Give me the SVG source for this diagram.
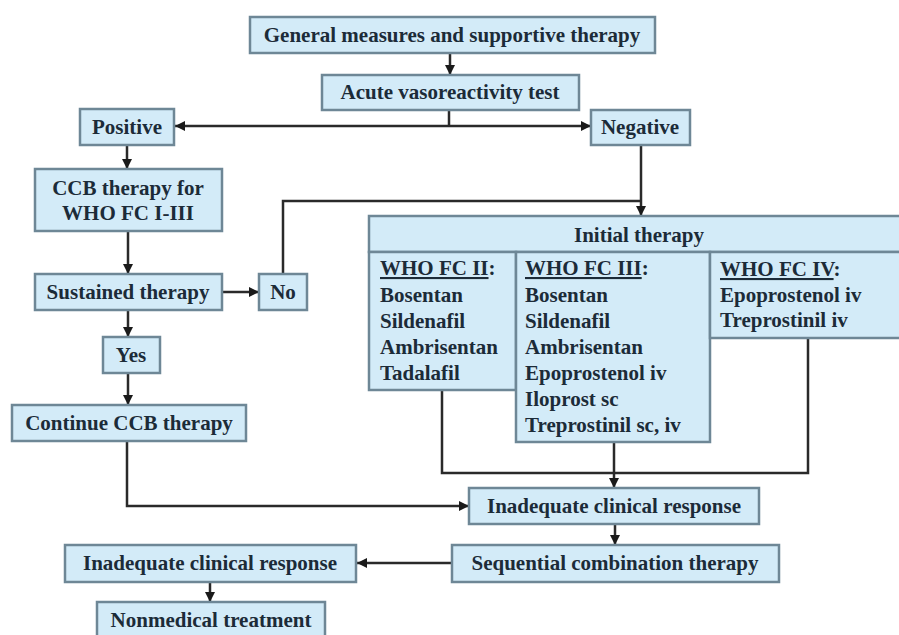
<svg xmlns="http://www.w3.org/2000/svg" width="899" height="635" viewBox="0 0 899 635">
<defs>
<style>
.box{fill:#d3ebf8;stroke:#6e8796;stroke-width:2.5}
.t{font-family:"Liberation Serif","Times New Roman",serif;font-weight:bold;font-size:21px;fill:#1c2b38}
.c{text-anchor:middle}
.u{text-decoration:underline}
.ln{fill:none;stroke:#2a2a2a;stroke-width:2.5}
</style>
<marker id="ah" viewBox="0 0 10 10" refX="10" refY="5" markerWidth="10" markerHeight="10" markerUnits="userSpaceOnUse" orient="auto">
<path d="M0,0 L10,5 L0,10 z" fill="#1a1a1a"/>
</marker>
</defs>
<rect width="899" height="635" fill="#ffffff"/>

<g id="connectors">
<path class="ln" d="M450,53 V75" marker-end="url(#ah)"/>
<path class="ln" d="M449,110 V126"/>
<path class="ln" d="M449,126 H175" marker-end="url(#ah)"/>
<path class="ln" d="M449,126 H591" marker-end="url(#ah)"/>
<path class="ln" d="M127,145 V169" marker-end="url(#ah)"/>
<path class="ln" d="M128,231 V274" marker-end="url(#ah)"/>
<path class="ln" d="M222,292 H259" marker-end="url(#ah)"/>
<path class="ln" d="M283,274 V201 H641"/>
<path class="ln" d="M641,145 V216" marker-end="url(#ah)"/>
<path class="ln" d="M128,310 V337" marker-end="url(#ah)"/>
<path class="ln" d="M128,373 V405" marker-end="url(#ah)"/>
<path class="ln" d="M127,441 V506 H469" marker-end="url(#ah)"/>
<path class="ln" d="M442,390 V473 H808 V338"/>
<path class="ln" d="M614,442 V488" marker-end="url(#ah)"/>
<path class="ln" d="M615,524 V545" marker-end="url(#ah)"/>
<path class="ln" d="M452,563 H357" marker-end="url(#ah)"/>
<path class="ln" d="M210,582 V602" marker-end="url(#ah)"/>
</g>

<g id="general">
<rect class="box" x="250" y="17" width="405" height="36"/>
<text class="t c" x="452" y="42">General measures and supportive therapy</text>
</g>
<g id="acute">
<rect class="box" x="322" y="75" width="257" height="35"/>
<text class="t c" x="450" y="99">Acute vasoreactivity test</text>
</g>
<g id="positive">
<rect class="box" x="80" y="109" width="94" height="36"/>
<text class="t c" x="127" y="134">Positive</text>
</g>
<g id="negative">
<rect class="box" x="591" y="110" width="99" height="35"/>
<text class="t c" x="640" y="134">Negative</text>
</g>
<g id="ccb">
<rect class="box" x="35" y="169" width="187" height="62"/>
<text class="t c" x="128" y="195">CCB therapy for</text>
<text class="t c" x="128" y="220">WHO FC I-III</text>
</g>
<g id="sustained">
<rect class="box" x="35" y="274" width="187" height="36"/>
<text class="t c" x="128" y="299">Sustained therapy</text>
</g>
<g id="no">
<rect class="box" x="259" y="274" width="48" height="36"/>
<text class="t c" x="283" y="299">No</text>
</g>
<g id="yes">
<rect class="box" x="103" y="337" width="57" height="36"/>
<text class="t c" x="131" y="362">Yes</text>
</g>
<g id="continue">
<rect class="box" x="12" y="405" width="234" height="36"/>
<text class="t c" x="129" y="430">Continue CCB therapy</text>
</g>

<g id="initial">
<rect class="box" x="369" y="216" width="540" height="36"/>
<text class="t c" x="639" y="242">Initial therapy</text>
<g id="fc2">
<rect class="box" x="369" y="252" width="147" height="138"/>
<text class="t" x="380" y="275"><tspan class="u">WHO FC II</tspan>:</text>
<text class="t" x="380" y="302">Bosentan</text>
<text class="t" x="380" y="328">Sildenafil</text>
<text class="t" x="380" y="354">Ambrisentan</text>
<text class="t" x="380" y="380">Tadalafil</text>
</g>
<g id="fc3">
<rect class="box" x="516" y="252" width="194" height="190"/>
<text class="t" x="525" y="275"><tspan class="u">WHO FC III</tspan>:</text>
<text class="t" x="525" y="302">Bosentan</text>
<text class="t" x="525" y="328">Sildenafil</text>
<text class="t" x="525" y="354">Ambrisentan</text>
<text class="t" x="525" y="380">Epoprostenol iv</text>
<text class="t" x="525" y="406">Iloprost sc</text>
<text class="t" x="525" y="432">Treprostinil sc, iv</text>
</g>
<g id="fc4">
<rect class="box" x="710" y="252" width="199" height="86"/>
<text class="t" x="720" y="276"><tspan class="u">WHO FC IV</tspan>:</text>
<text class="t" x="720" y="302">Epoprostenol iv</text>
<text class="t" x="720" y="327">Treprostinil iv</text>
</g>
</g>

<g id="inadequate1">
<rect class="box" x="469" y="488" width="290" height="36"/>
<text class="t c" x="614" y="513">Inadequate clinical response</text>
</g>
<g id="sequential">
<rect class="box" x="452" y="545" width="327" height="37"/>
<text class="t c" x="615" y="570">Sequential combination therapy</text>
</g>
<g id="inadequate2">
<rect class="box" x="65" y="545" width="291" height="37"/>
<text class="t c" x="210" y="570">Inadequate clinical response</text>
</g>
<g id="nonmedical">
<rect class="box" x="97" y="602" width="228" height="40"/>
<text class="t c" x="211" y="627">Nonmedical treatment</text>
</g>
</svg>
